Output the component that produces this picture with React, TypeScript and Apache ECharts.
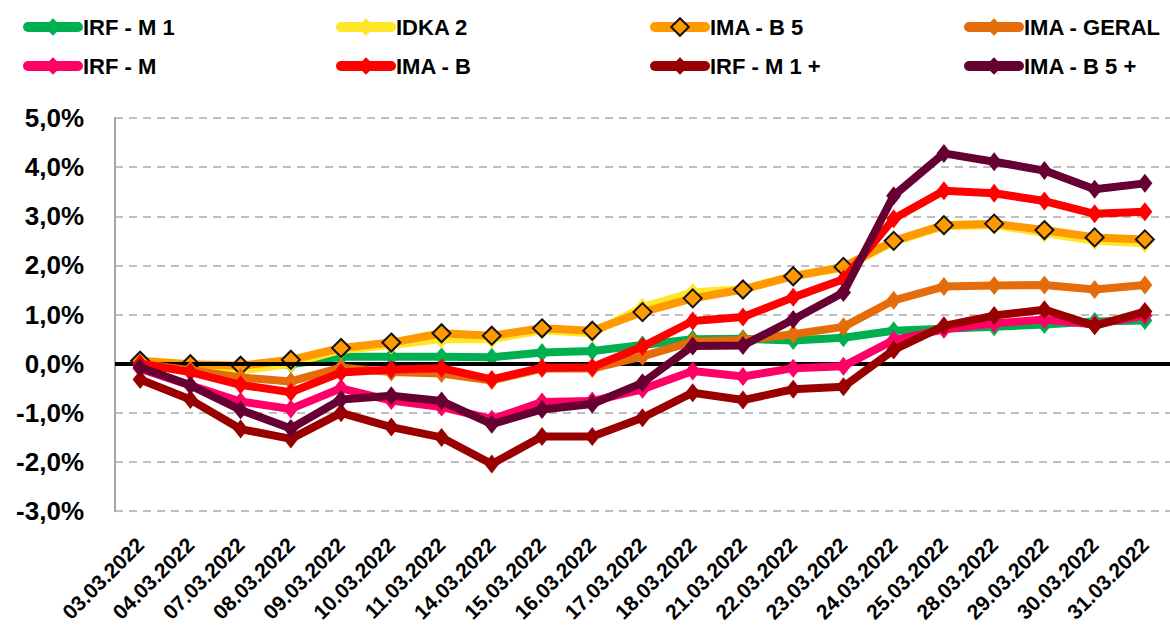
import React, { useEffect, useRef } from "react";
import * as echarts from "echarts";

const dates = ["03.03.2022","04.03.2022","07.03.2022","08.03.2022","09.03.2022","10.03.2022","11.03.2022","14.03.2022","15.03.2022","16.03.2022","17.03.2022","18.03.2022","21.03.2022","22.03.2022","23.03.2022","24.03.2022","25.03.2022","28.03.2022","29.03.2022","30.03.2022","31.03.2022"];

const irfM1 = [0.0, -0.04, -0.05, -0.01, 0.14, 0.14, 0.14, 0.13, 0.23, 0.26, 0.38, 0.5, 0.51, 0.47, 0.53, 0.67, 0.71, 0.75, 0.8, 0.86, 0.88];
const idka2 = [0.02, -0.05, -0.14, 0.0, 0.28, 0.38, 0.5, 0.5, 0.68, 0.62, 1.15, 1.45, 1.52, 1.78, 1.95, 2.48, 2.8, 2.82, 2.66, 2.5, 2.45];
const imaB5 = [0.06, -0.01, -0.04, 0.08, 0.32, 0.43, 0.62, 0.57, 0.72, 0.67, 1.05, 1.33, 1.51, 1.78, 1.97, 2.5, 2.82, 2.85, 2.72, 2.57, 2.53];
const imaGeral = [0.0, -0.13, -0.28, -0.36, -0.08, -0.17, -0.2, -0.34, -0.1, -0.1, 0.15, 0.45, 0.48, 0.6, 0.75, 1.29, 1.57, 1.59, 1.6, 1.51, 1.6];
const irfM = [-0.1, -0.44, -0.77, -0.92, -0.5, -0.75, -0.88, -1.13, -0.78, -0.76, -0.52, -0.15, -0.26, -0.09, -0.05, 0.48, 0.7, 0.82, 0.9, 0.8, 0.98];
const imaB = [0.0, -0.17, -0.43, -0.58, -0.18, -0.12, -0.09, -0.32, -0.08, -0.07, 0.35, 0.87, 0.95, 1.35, 1.72, 2.95, 3.52, 3.47, 3.31, 3.05, 3.09];
const irfM1Plus = [-0.32, -0.73, -1.33, -1.53, -1.0, -1.29, -1.5, -2.04, -1.48, -1.48, -1.1, -0.59, -0.74, -0.52, -0.47, 0.28, 0.77, 0.98, 1.1, 0.77, 1.06];
const imaB5Plus = [-0.07, -0.44, -0.94, -1.32, -0.73, -0.65, -0.76, -1.23, -0.93, -0.82, -0.39, 0.36, 0.37, 0.9, 1.45, 3.42, 4.28, 4.11, 3.93, 3.55, 3.67];

const seriesNames = ["IRF - M 1", "IDKA 2", "IMA - B 5", "IMA - GERAL", "IRF - M", "IMA - B", "IRF - M 1 +", "IMA - B 5 +"];
const seriesData = [irfM1, idka2, imaB5, imaGeral, irfM, imaB, irfM1Plus, imaB5Plus];
const seriesColors = ["#00B050", "#FFE629", "#FF9900", "#E46C0A", "#FF0066", "#FF0000", "#990000", "#660033"];

const FONT = "'Liberation Sans', Arial, sans-serif";

export default function App() {
  const ref = useRef<HTMLDivElement>(null);
  useEffect(() => {
    if (!ref.current) return;
    const chart = echarts.init(ref.current, undefined, { renderer: "svg" });
    const series = seriesNames.map((name, i) => {
      const isB5 = name === "IMA - B 5";
      const s: any = {
        name,
        type: "line",
        data: seriesData[i],
        color: seriesColors[i],
        symbol: "diamond",
        symbolSize: isB5 ? 18 : [15, 19],
        showAllSymbol: true,
        lineStyle: { width: 8, color: seriesColors[i] },
        itemStyle: isB5
          ? { color: seriesColors[i], borderColor: "#111", borderWidth: 2 }
          : { color: seriesColors[i], borderWidth: 0 },
        z: 2 + i,
      };
      if (i === 0) {
        s.markLine = {
          silent: true,
          symbol: "none",
          label: { show: false },
          lineStyle: { color: "#000", width: 4, type: "solid" },
          data: [{ yAxis: 0 }],
        };
      }
      return s;
    });
    const legendCols = [18, 331, 645, 959];
    const legends = legendCols.map((left, c) => ({
      show: true,
      orient: "vertical",
      left,
      top: 11,
      itemWidth: 50,
      itemHeight: 22,
      itemGap: 17,
      lineStyle: { width: 10, cap: "round" },
      data: [seriesNames[c], seriesNames[c + 4]],
      textStyle: { fontFamily: FONT, fontWeight: "bold", fontSize: 22, color: "#000" },
    }));
    chart.setOption({
      animation: false,
      legend: legends,
      grid: { left: 115, right: -16, top: 118, bottom: 111, containLabel: false },
      xAxis: {
        type: "category",
        data: dates,
        boundaryGap: true,
        axisLine: { show: false },
        axisTick: { show: false },
        axisLabel: {
          rotate: 45,
          interval: 0,
          margin: 30,
          fontFamily: FONT,
          fontWeight: "bold",
          fontSize: 21,
          color: "#000",
        },
        splitLine: { show: false },
      },
      yAxis: {
        type: "value",
        min: -3,
        max: 5,
        interval: 1,
        axisLine: { show: true, lineStyle: { color: "#A6A6A6", width: 2 } },
        axisTick: { show: false },
        axisLabel: {
          margin: 31,
          fontFamily: FONT,
          fontWeight: "bold",
          fontSize: 26,
          color: "#000",
          formatter: (v: number) => v.toFixed(1).replace(".", ",") + "%",
        },
        splitLine: { show: true, lineStyle: { color: "#BFBFBF", width: 2, type: [8, 6] } },
      },
      series,
    });
    return () => chart.dispose();
  }, []);
  return (
    <div
      ref={ref}
      style={{ position: "absolute", left: 0, top: 0, width: 1170, height: 625, background: "#fff" }}
    />
  );
}
